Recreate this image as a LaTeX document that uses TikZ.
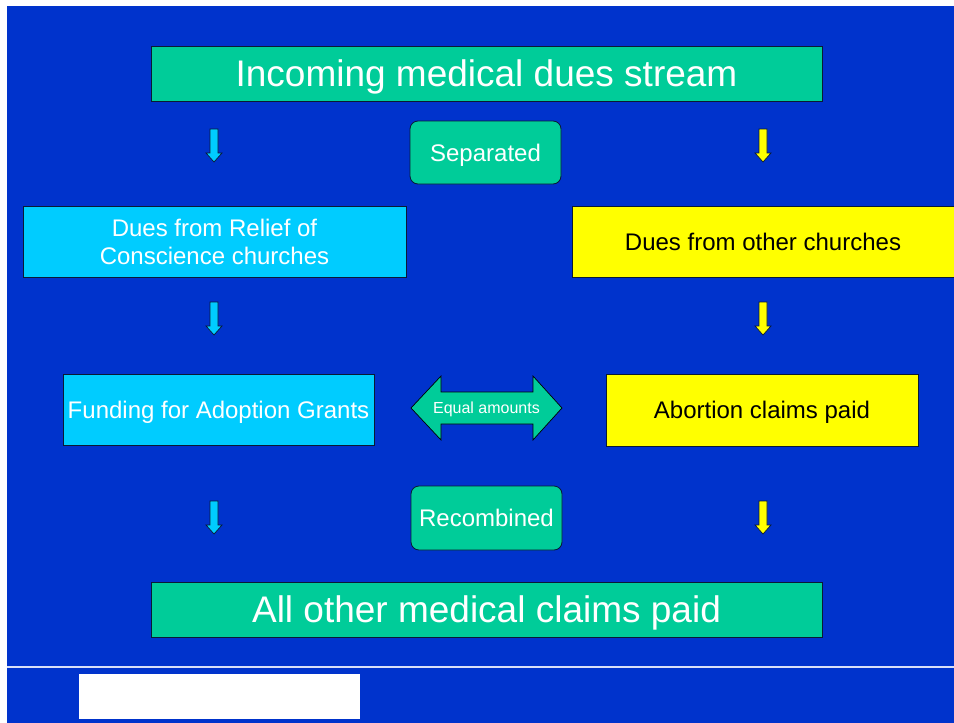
\documentclass[tikz,border=0pt]{standalone}
\usepackage{fontspec}
\setmainfont{Liberation Sans}
\definecolor{bgblue}{HTML}{0033CC}
\definecolor{dgreen}{HTML}{00CC99}
\definecolor{dcyan}{HTML}{00CCFF}
\definecolor{dyellow}{HTML}{FFFF00}
\definecolor{edgedark}{HTML}{0A1A33}
\newcommand{\blockarrowdown}[3]{% x, top y, fill colour
  \draw[arrowshape, fill=#3] (#1-4,#2) -- (#1+4,#2) -- (#1+4,#2+24) -- (#1+8,#2+24)
    -- (#1,#2+33) -- (#1-8,#2+24) -- (#1-4,#2+24) -- cycle;}
\begin{document}
\begin{tikzpicture}[x=1pt,y=-1pt,
  box/.style={draw=edgedark, line width=0.8pt, inner sep=0pt, align=center,
    font=\fontsize{24}{28}\selectfont},
  greenbox/.style={box, fill=dgreen, text=white},
  cyanbox/.style={box, fill=dcyan, text=white},
  yellowbox/.style={box, fill=dyellow, text=black},
  roundbox/.style={greenbox, rounded corners=8pt},
  midline/.style={text height=17.2pt, text depth=0pt},
  bigbox/.style={greenbox, font=\fontsize{37}{40}\selectfont, text height=26.5pt, text depth=0pt},
  arrowshape/.style={draw=edgedark, line width=0.7pt, line join=miter}]
\useasboundingbox (0,0) rectangle (954,723);
\fill[white] (0,0) rectangle (954,723);
\fill[bgblue] (7,6) rectangle (954,723);

\node[bigbox, minimum width=671pt, minimum height=55pt] (title) at (486.5,73.5) {Incoming medical dues stream};
\node[roundbox, midline, minimum width=151pt, minimum height=63pt] (sep) at (485.5,152.5) {Separated};
\node[cyanbox, minimum width=383pt, minimum height=71pt] (relief) at (214.5,242) {Dues from Relief of\\Conscience churches};
\node[yellowbox, midline, minimum width=382pt, minimum height=71pt] (other) at (763,241.5) {Dues from other churches};
\node[cyanbox, midline, minimum width=311pt, minimum height=71pt] (funding) at (218.5,409.5) {Funding for Adoption Grants};
\node[yellowbox, midline, minimum width=312pt, minimum height=72pt] (abortion) at (762,410) {Abortion claims paid};
\node[roundbox, midline, minimum width=151pt, minimum height=64pt] (recomb) at (486.5,518) {Recombined};
\node[bigbox, minimum width=671pt, minimum height=55pt] (bottom) at (486.5,609.5) {All other medical claims paid};

% double arrow
\draw[arrowshape, draw=black, fill=dgreen] (411,408) -- (441,376) -- (441,392) -- (533,392) -- (533,376)
  -- (562,408) -- (533,440) -- (533,424) -- (441,424) -- (441,440) -- cycle;
\node[text=white, font=\fontsize{16}{18}\selectfont, inner sep=0pt, text height=11.5pt, text depth=0pt] (eq) at (486.5,408) {Equal amounts};

% block arrows
\blockarrowdown{214}{129}{dcyan}
\blockarrowdown{763}{129}{dyellow}
\blockarrowdown{214}{302}{dcyan}
\blockarrowdown{763}{302}{dyellow}
\blockarrowdown{214}{501}{dcyan}
\blockarrowdown{763}{501}{dyellow}

% footer
\draw[white!85!bgblue, line width=1.5pt] (7,667) -- (954,667);
\fill[white] (79,674) rectangle (360,719);
\end{tikzpicture}
\end{document}
